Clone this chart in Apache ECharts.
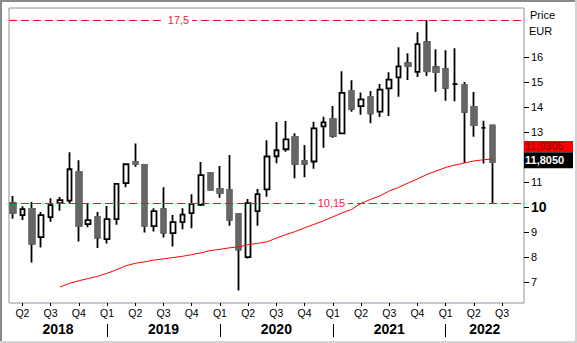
<!DOCTYPE html>
<html>
<head>
<meta charset="utf-8">
<script src="https://cdn.jsdelivr.net/npm/echarts@6/dist/echarts.min.js"></script>
<style>
html,body{margin:0;padding:0;background:#fff;}
#chart{width:577px;height:343px;}
</style>
</head>
<body>
<div id="chart"></div>
<script>
// Monthly candles, March 2018 – June 2022
const months = [
  '2018-03','2018-04','2018-05','2018-06','2018-07','2018-08','2018-09','2018-10','2018-11','2018-12',
  '2019-01','2019-02','2019-03','2019-04','2019-05','2019-06','2019-07','2019-08','2019-09','2019-10','2019-11','2019-12',
  '2020-01','2020-02','2020-03','2020-04','2020-05','2020-06','2020-07','2020-08','2020-09','2020-10','2020-11','2020-12',
  '2021-01','2021-02','2021-03','2021-04','2021-05','2021-06','2021-07','2021-08','2021-09','2021-10','2021-11','2021-12',
  '2022-01','2022-02','2022-03','2022-04','2022-05','2022-06'
];
const openPx = [
  10.16, 9.68, 9.93, 8.80, 9.60, 10.16, 10.26, 11.41, 9.32, 9.61,
  8.72, 9.52, 10.96, 11.81, 11.69, 9.24, 9.92, 8.96, 9.40, 9.76, 10.09, 11.37,
  10.73, 10.69, 9.73, 8.00, 9.84, 10.71, 12.04, 12.32, 12.81, 11.85, 11.83, 13.24,
  13.53, 12.96, 14.65, 14.05, 14.41, 13.83, 14.76, 15.20, 15.77, 15.42, 16.61, 15.61,
  15.53, 14.93, 14.89, 14.01, 13.18, 13.27
];
const closePx = [
  9.78, 9.92, 8.54, 9.68, 10.08, 10.28, 11.52, 9.26, 9.48, 8.78,
  9.52, 10.93, 11.72, 11.73, 9.26, 9.84, 8.98, 9.40, 9.70, 10.13, 11.28, 10.70,
  10.58, 9.50, 8.30, 10.16, 10.52, 12.03, 12.28, 12.72, 11.74, 11.74, 13.16, 13.40,
  12.86, 14.58, 13.94, 14.32, 13.76, 14.71, 15.11, 15.64, 15.66, 16.53, 15.45, 15.42,
  14.78, 14.93, 13.82, 13.29, 13.18, 11.805
];
const lowPx = [
  9.54, 9.49, 7.78, 8.38, 9.42, 9.86, 10.16, 8.62, 9.20, 8.36,
  8.54, 9.30, 10.80, 11.62, 8.98, 9.02, 8.78, 8.42, 9.12, 9.16, 10.05, 10.68,
  10.38, 9.26, 6.66, 7.94, 9.26, 10.42, 11.76, 12.22, 11.16, 11.20, 11.54, 12.38,
  12.78, 12.96, 13.82, 13.70, 13.36, 13.61, 13.65, 14.42, 15.10, 15.22, 15.26, 14.62,
  14.26, 14.24, 11.77, 12.82, 11.75, 10.15
];
const highPx = [
  10.45, 10.04, 10.21, 9.81, 10.36, 10.41, 12.20, 11.88, 10.14, 9.81,
  10.05, 10.93, 11.74, 12.55, 11.73, 9.96, 10.80, 9.69, 9.96, 10.52, 11.81, 11.39,
  11.65, 12.09, 9.73, 10.33, 10.73, 12.68, 13.41, 13.45, 12.96, 12.49, 13.42, 13.62,
  14.05, 15.45, 15.09, 14.59, 14.65, 14.93, 15.41, 16.41, 16.17, 17.01, 17.50, 16.33,
  16.29, 16.37, 15.01, 14.61, 13.46, 13.30
];
// Moving average (no value before Aug 2018)
const avgLine = [
  null, null, null, null, null, 6.80, 6.95, 7.05, 7.14, 7.23,
  7.35, 7.49, 7.65, 7.75, 7.81, 7.88, 7.93, 7.98, 8.03, 8.10, 8.17, 8.26,
  8.31, 8.37, 8.41, 8.50, 8.55, 8.61, 8.76, 8.90, 9.02, 9.17, 9.31, 9.45,
  9.61, 9.77, 9.91, 10.15, 10.31, 10.45, 10.65, 10.79, 10.97, 11.13, 11.31, 11.45,
  11.59, 11.69, 11.77, 11.85, 11.90, 11.9305
];
const priceTicks = [7, 8, 9, 10, 11, 13, 14, 15, 16];
const quarterTicks = [
  '2018-04','2018-07','2018-10','2019-01','2019-04','2019-07','2019-10',
  '2020-01','2020-04','2020-07','2020-10','2021-01','2021-04','2021-07','2021-10',
  '2022-01','2022-04','2022-07'
];
const yearNames = ['2018', '2019', '2020', '2021', '2022'];

const FONT = "'Liberation Sans', Arial, sans-serif";
const X_MIN = -0.425, X_MAX = 54.33;

function monthIndex(m) {
  const [y, mo] = m.split('-').map(Number);
  const [y0, mo0] = months[0].split('-').map(Number);
  return (y - y0) * 12 + (mo - mo0);
}
function quarterOf(m) {
  return 'Q' + (Math.floor((Number(m.split('-')[1]) - 1) / 3) + 1);
}
function fmt(v, d) { return v.toFixed(d).replace('.', ','); }

const quarterIdx = quarterTicks.map(monthIndex);
const yearStartIdx = yearNames.slice(1).map(y => monthIndex(y + '-01'));
const yearBounds = [X_MIN].concat(yearStartIdx, [X_MAX]);
const yearMidIdx = yearNames.map((y, i) => (yearBounds[i] + yearBounds[i + 1]) / 2);

const candles = months.map((m, i) => [i, openPx[i], closePx[i], lowPx[i], highPx[i]]);
// Falling months: bodies repainted grey so only the wicks stay black
const fallingBodies = months
  .map((m, i) => [i, openPx[i], closePx[i], closePx[i], openPx[i]])
  .filter(d => d[1] > d[2]);
const avgData = avgLine.map((v, i) => [i, v]).filter(d => d[1] != null);

const last = months.length - 1;
const topRef = Math.max(...highPx);
const lowRef = lowPx[last];

const chart = echarts.init(document.getElementById('chart'), null, {renderer: 'svg', width: 577, height: 343});

chart.setOption({
  animation: false,
  backgroundColor: '#ffffff',
  textStyle: {fontFamily: FONT},
  grid: {left: 9, right: 53, top: 8, bottom: 40, show: true, borderColor: '#8e8e9e', borderWidth: 1, backgroundColor: '#ffffff'},
  xAxis: [{
    type: 'value', min: X_MIN, max: X_MAX, position: 'bottom',
    splitLine: {show: false}, axisLine: {show: false, onZero: false},
    axisTick: {show: true, length: 3, customValues: quarterIdx, lineStyle: {color: '#000', width: 1}},
    axisLabel: {
      customValues: quarterIdx, margin: 10, verticalAlign: 'middle',
      color: '#000', fontSize: 10.5, fontFamily: FONT,
      formatter: v => quarterOf(quarterTicks[quarterIdx.indexOf(Math.round(v))] || months[0])
    }
  }, {
    type: 'value', min: X_MIN, max: X_MAX, position: 'bottom', offset: 21,
    splitLine: {show: false}, axisLine: {show: false, onZero: false},
    axisTick: {show: true, length: 13, customValues: yearStartIdx, lineStyle: {color: '#000', width: 1}},
    axisLabel: {
      customValues: yearMidIdx, margin: 5, verticalAlign: 'middle',
      color: '#000', fontSize: 14, fontWeight: 'bold', fontFamily: FONT,
      formatter: v => {
        let k = 0;
        yearMidIdx.forEach((m, i) => { if (Math.abs(m - v) < Math.abs(yearMidIdx[k] - v)) k = i; });
        return yearNames[k];
      }
    }
  }],
  yAxis: {
    type: 'value', position: 'right', min: 6.16, max: 17.98,
    splitLine: {show: false}, axisLine: {show: false, onZero: false},
    axisTick: {show: true, length: 5, customValues: priceTicks, lineStyle: {color: '#000', width: 1}},
    axisLabel: {
      customValues: priceTicks, margin: 7, color: '#000', fontSize: 11, fontFamily: FONT,
      formatter: v => v === 10 ? '{b|10}' : String(v),
      rich: {b: {fontWeight: 'bold', fontSize: 14, color: '#000', fontFamily: FONT}}
    }
  },
  graphic: [
    {type: 'text', left: 530, top: 9, silent: true, style: {text: 'Price', fill: '#000', font: '11px ' + FONT}},
    {type: 'text', left: 529, top: 25, silent: true, style: {text: 'EUR', fill: '#000', font: '11px ' + FONT}},
    {type: 'rect', silent: true, shape: {x: 0, y: 0, width: 2, height: 343}, style: {fill: '#8a8a8a'}},
    {type: 'rect', silent: true, shape: {x: 0, y: 0, width: 577, height: 2}, style: {fill: '#8a8a8a'}},
    {type: 'rect', silent: true, shape: {x: 575, y: 0, width: 2, height: 343}, style: {fill: '#d4d4d4'}},
    {type: 'rect', silent: true, shape: {x: 0, y: 341, width: 577, height: 2}, style: {fill: '#d4d4d4'}}
  ],
  series: [{
    name: 'Price', type: 'candlestick', xAxisIndex: 0,
    data: candles, encode: {x: 0, y: [1, 2, 3, 4]},
    barWidth: 5,
    itemStyle: {color: '#ffffff', color0: '#666666', borderColor: '#000000', borderColor0: '#000000', borderColorDoji: '#000000', borderWidth: 1.8},
    markLine: {
      silent: true, symbol: 'none', label: {show: false},
      lineStyle: {color: '#ee1111', type: [8, 4], width: 1},
      data: [{yAxis: topRef}, {yAxis: lowRef}]
    },
    markPoint: {
      silent: true, symbol: 'rect', symbolSize: 1, itemStyle: {color: 'rgba(0,0,0,0)'},
      label: {show: true, position: 'inside', color: '#ee2244', fontSize: 11, fontFamily: FONT,
        backgroundColor: '#ffffff', padding: [1, 3], formatter: p => p.name},
      data: [
        {name: fmt(topRef, 1), coord: [17.6, topRef]},
        {name: fmt(lowRef, 2), coord: [33.86, lowRef]}
      ]
    }
  }, {
    name: 'Falling', type: 'candlestick', xAxisIndex: 0,
    data: fallingBodies, encode: {x: 0, y: [1, 2, 3, 4]},
    barWidth: 5,
    itemStyle: {color: '#666666', color0: '#666666', borderColor: '#666666', borderColor0: '#666666', borderWidth: 2}
  }, {
    name: 'Average', type: 'line', xAxisIndex: 0,
    data: avgData, showSymbol: false, symbol: 'none',
    lineStyle: {color: '#ff0000', width: 1},
    markLine: {
      silent: true, symbol: 'none', lineStyle: {color: 'rgba(0,0,0,0)', width: 0},
      data: [{
        yAxis: avgLine[last],
        label: {show: true, position: 'end', distance: 0, formatter: fmt(avgLine[last], 4),
          color: '#7a0000', fontSize: 11, fontFamily: FONT, backgroundColor: '#ff0000',
          width: 48, height: 11, lineHeight: 11, padding: [0, 0, 0, 1], align: 'left', offset: [0, -12.5]}
      }, {
        yAxis: closePx[last],
        label: {show: true, position: 'end', distance: 0, formatter: fmt(closePx[last], 4),
          color: '#ffffff', fontSize: 11, fontWeight: 'bold', fontFamily: FONT, backgroundColor: '#000000',
          width: 48, height: 16, lineHeight: 16, padding: [0, 0, 0, 1], align: 'left', offset: [0, -2]}
      }]
    }
  }]
});
</script>
</body>
</html>
